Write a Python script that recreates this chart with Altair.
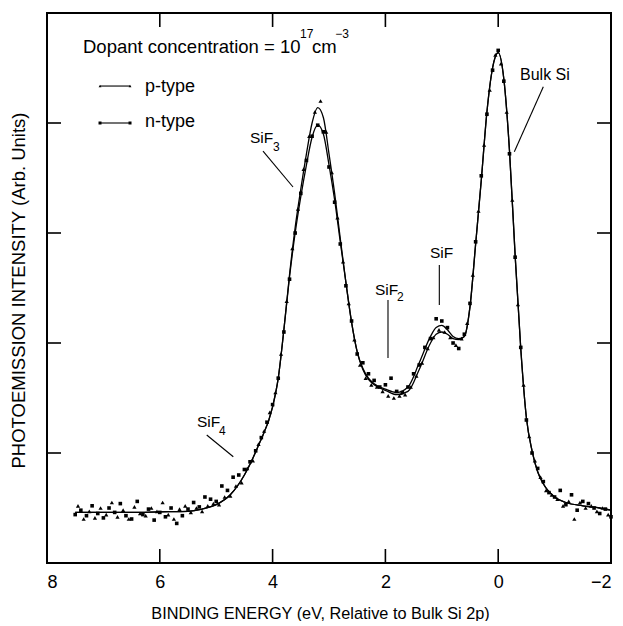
import altair as alt
import pandas as pd

# ---------------- data ----------------
# smooth fitted curves
curve_E = [7.5, 7.0, 6.5, 6.0, 5.5, 5.25, 5.0, 4.75, 4.5, 4.25, 4.0, 3.9, 3.8, 3.7, 3.6,
           3.5, 3.4, 3.3, 3.2, 3.1, 3.0, 2.9, 2.8, 2.7, 2.6, 2.5, 2.4, 2.3, 2.2, 2.0,
           1.8, 1.6, 1.4, 1.2, 1.1, 1.0, 0.9, 0.8, 0.7, 0.6, 0.5, 0.4, 0.3, 0.2, 0.1,
           0.0, -0.1, -0.2, -0.3, -0.4, -0.5, -0.6, -0.7, -0.8, -1.0, -1.2, -1.5, -1.8, -2.0]
curve_p = [0.46, 0.46, 0.46, 0.465, 0.47, 0.49, 0.53, 0.62, 0.80, 1.07, 1.42, 1.68, 2.12, 2.62, 3.05,
           3.40, 3.72, 4.00, 4.14, 4.05, 3.72, 3.36, 2.95, 2.55, 2.19, 1.92, 1.76, 1.67, 1.62, 1.57,
           1.53, 1.56, 1.76, 2.00, 2.08, 2.10, 2.08, 2.04, 2.03, 2.06, 2.33, 2.90, 3.48, 4.10, 4.50,
           4.64, 4.40, 3.75, 2.80, 1.95, 1.32, 1.02, 0.83, 0.72, 0.60, 0.55, 0.52, 0.50, 0.48]
curve_n = [0.46, 0.46, 0.46, 0.465, 0.47, 0.49, 0.53, 0.62, 0.80, 1.07, 1.42, 1.68, 2.12, 2.60, 3.00,
           3.33, 3.62, 3.87, 3.98, 3.90, 3.62, 3.30, 2.92, 2.55, 2.19, 1.92, 1.77, 1.68, 1.63, 1.58,
           1.55, 1.60, 1.82, 2.06, 2.14, 2.16, 2.12, 2.06, 2.04, 2.06, 2.33, 2.90, 3.48, 4.10, 4.50,
           4.64, 4.40, 3.75, 2.80, 1.95, 1.32, 1.02, 0.83, 0.72, 0.60, 0.55, 0.52, 0.50, 0.48]

# measured points, p-type (triangles)
p_E = [7.45, 7.35, 7.25, 7.15, 7.05, 6.95, 6.85, 6.75, 6.65, 6.55, 6.45, 6.35, 6.25, 6.15, 6.05,
       5.95, 5.85, 5.75, 5.65, 5.55, 5.45, 5.35, 5.25, 5.15, 5.05, 4.95, 4.85, 4.75, 4.65, 4.55,
       4.45, 4.35, 4.25, 4.15, 4.05, 3.95, 3.85, 3.75, 3.65, 3.55, 3.45, 3.35, 3.25, 3.15, 3.05,
       2.95, 2.85, 2.75, 2.65, 2.55, 2.45, 2.35, 2.25, 2.15, 2.05, 1.95, 1.85, 1.75, 1.65, 1.55,
       1.45, 1.35, 1.25, 1.15, 1.05, 0.95, 0.85, 0.75, 0.65, 0.55, 0.45, 0.35, 0.25, 0.15, 0.05,
       -0.05, -0.15, -0.25, -0.35, -0.45, -0.55, -0.65, -0.75, -0.85, -0.95, -1.05, -1.15, -1.25,
       -1.35, -1.45, -1.55, -1.65, -1.75, -1.85, -1.95]
p_I = [0.52, 0.40, 0.47, 0.41, 0.50, 0.44, 0.55, 0.42, 0.48, 0.40, 0.51, 0.45, 0.43, 0.50, 0.47,
       0.55, 0.44, 0.40, 0.49, 0.52, 0.46, 0.50, 0.47, 0.52, 0.54, 0.53, 0.60, 0.61, 0.70, 0.73,
       0.86, 0.93, 1.08, 1.20, 1.37, 1.55, 1.90, 2.38, 2.86, 3.22, 3.58, 3.88, 4.10, 4.20, 3.92,
       3.55, 3.14, 2.74, 2.36, 2.03, 1.80, 1.68, 1.62, 1.60, 1.56, 1.52, 1.50, 1.52, 1.53, 1.60,
       1.70, 1.82, 1.95, 2.05, 2.12, 2.10, 2.05, 1.98, 2.04, 2.18, 2.62, 3.20, 3.80, 4.30, 4.62,
       4.54, 4.10, 3.30, 2.35, 1.62, 1.15, 0.93, 0.78, 0.66, 0.62, 0.58, 0.52, 0.56,
       0.40, 0.55, 0.50, 0.52, 0.47, 0.50, 0.44]

# measured points, n-type (squares)
n_E = [7.5, 7.4, 7.3, 7.2, 7.1, 7.0, 6.9, 6.8, 6.7, 6.6, 6.5, 6.4, 6.3, 6.2, 6.1, 6.0,
       5.9, 5.8, 5.7, 5.6, 5.5, 5.4, 5.3, 5.2, 5.1, 5.0, 4.9, 4.8, 4.7, 4.6, 4.5, 4.4,
       4.3, 4.2, 4.1, 4.0, 3.9, 3.8, 3.7, 3.6, 3.5, 3.4, 3.3, 3.2, 3.1, 3.0, 2.9, 2.8,
       2.7, 2.6, 2.5, 2.4, 2.3, 2.2, 2.1, 2.0, 1.9, 1.8, 1.7, 1.6, 1.5, 1.4, 1.3, 1.2,
       1.1, 1.0, 0.9, 0.8, 0.7, 0.6, 0.5, 0.4, 0.3, 0.2, 0.1, 0.0, -0.1, -0.2, -0.3, -0.4,
       -0.5, -0.6, -0.7, -0.8, -0.9, -1.0, -1.1, -1.2, -1.3, -1.4, -1.5, -1.6, -1.7, -1.8,
       -1.9, -2.0]
n_I = [0.44, 0.48, 0.43, 0.52, 0.45, 0.41, 0.50, 0.46, 0.54, 0.43, 0.40, 0.56, 0.44, 0.49, 0.39, 0.46,
       0.42, 0.50, 0.36, 0.43, 0.49, 0.55, 0.51, 0.60, 0.58, 0.56, 0.70, 0.66, 0.78, 0.80, 0.85, 0.92,
       1.02, 1.14, 1.28, 1.44, 1.68, 2.10, 2.58, 3.00, 3.36, 3.66, 3.88, 3.98, 3.92, 3.60, 3.28, 2.90,
       2.52, 2.20, 1.90, 1.82, 1.72, 1.66, 1.60, 1.62, 1.68, 1.56, 1.55, 1.60, 1.72, 1.80, 1.96, 2.04,
       2.22, 2.20, 2.14, 2.00, 1.95, 2.08, 2.36, 2.92, 3.52, 4.08, 4.48, 4.66, 4.38, 3.72, 2.78, 1.96,
       1.30, 1.00, 0.86, 0.74, 0.64, 0.60, 0.66, 0.53, 0.62, 0.48, 0.56, 0.54, 0.50, 0.45,
       0.49, 0.42]

x_ticks = [8, 6, 4, 2, 0, -2]
inner_x_ticks = [6, 4, 2, 0]
inner_y_ticks = [1, 2, 3, 4]

# annotation texts: position in data units
ann_text = ["Dopant concentration = 10", "17", "cm", "\u22123",
            "p-type", "n-type",
            "SiF", "3", "SiF", "2", "SiF", "SiF", "4", "Bulk  Si"]
ann_E = [7.362, 3.515, 3.300, 2.890,
         6.262, 6.262,
         4.401, 3.993, 2.184, 1.794, 1.209, 5.340, 4.950, -0.387]
ann_I = [4.691, 4.809, 4.691, 4.809,
         4.327, 4.009,
         3.864, 3.782, 2.482, 2.418, 2.818, 1.282, 1.200, 4.436]
ann_fs = [18.5, 12, 18.5, 12,
          18, 18,
          15.5, 12, 15.5, 12, 15.5, 15.5, 12, 16]

# leader lines and legend samples
seg_E = [4.170, 1.954, 1.044, 5.168, -0.800, 7.060, 7.060]
seg_I = [3.745, 2.391, 2.709, 1.164, 4.330, 4.336, 4.000]
seg_E2 = [3.638, 1.954, 1.044, 4.697, -0.286, 6.528, 6.528]
seg_I2 = [3.418, 1.864, 2.345, 0.966, 3.739, 4.336, 4.000]

leg_p_E = [7.060, 6.528]
leg_p_I = [4.336, 4.336]
leg_n_E = [7.060, 6.528]
leg_n_I = [4.000, 4.000]

# ---------------- chart ----------------
FONT = "Liberation Sans"
W, H = 564, 550

xscale = alt.Scale(domain=[-2, 8], reverse=True, nice=False, zero=False)
yscale = alt.Scale(domain=[0, 5], nice=False, zero=False)

xaxis = alt.Axis(
    values=x_ticks, grid=False, ticks=False, tickSize=0, domain=False,
    labelFont=FONT, labelFontSize=18, labelColor="black", labelPadding=10,
    title="BINDING ENERGY (eV, Relative to Bulk Si 2p)",
    titleFont=FONT, titleFontSize=16.3, titleFontWeight="normal",
    titleColor="black", titleY=50, titleX=273, titleAlign="center",
    titleBaseline="middle",
)
yaxis = alt.Axis(
    labels=False, grid=False, ticks=False, tickSize=0, domain=False,
    title="PHOTOEMISSION INTENSITY (Arb. Units)",
    titleFont=FONT, titleFontSize=18.5, titleFontWeight="normal",
    titleColor="black", titleX=-29, titleY=277, titleAlign="center",
    titleBaseline="middle",
)

curve_df = pd.DataFrame(
    {"E": curve_E * 2, "I": curve_p + curve_n,
     "series": ["p-type"] * len(curve_E) + ["n-type"] * len(curve_E)}
)
p_df = pd.DataFrame({"E": p_E, "I": p_I})
n_df = pd.DataFrame({"E": n_E, "I": n_I})
ann_df = pd.DataFrame({"E": ann_E, "I": ann_I, "text": ann_text, "fs": ann_fs})
seg_df = pd.DataFrame({"E": seg_E, "I": seg_I, "E2": seg_E2, "I2": seg_I2})
legp_df = pd.DataFrame({"E": leg_p_E, "I": leg_p_I})
legn_df = pd.DataFrame({"E": leg_n_E, "I": leg_n_I})
xt_df = pd.DataFrame({"E": inner_x_ticks})
yt_df = pd.DataFrame({"I": inner_y_ticks})

xenc = alt.X("E:Q", scale=xscale, axis=xaxis)
yenc = alt.Y("I:Q", scale=yscale, axis=yaxis)

lines = alt.Chart(curve_df).mark_line(
    color="black", strokeWidth=1.3, interpolate="monotone"
).encode(x=xenc, y=yenc, detail="series:N")

pts_p = alt.Chart(p_df).mark_point(
    shape="triangle-up", filled=True, size=18, color="black", opacity=1
).encode(x=xenc, y=yenc)

pts_n = alt.Chart(n_df).mark_point(
    shape="square", filled=True, size=13, color="black", opacity=1
).encode(x=xenc, y=yenc)

tick_len = 14
xt_bottom = alt.Chart(xt_df).mark_rule(color="black", strokeWidth=1.6).encode(
    x=xenc, y=alt.value(H), y2=alt.value(H - tick_len))
xt_top = alt.Chart(xt_df).mark_rule(color="black", strokeWidth=1.6).encode(
    x=xenc, y=alt.value(0), y2=alt.value(tick_len))
yt_left = alt.Chart(yt_df).mark_rule(color="black", strokeWidth=1.6).encode(
    y=yenc, x=alt.value(0), x2=alt.value(tick_len))
yt_right = alt.Chart(yt_df).mark_rule(color="black", strokeWidth=1.6).encode(
    y=yenc, x=alt.value(W), x2=alt.value(W - tick_len))

segs = alt.Chart(seg_df).mark_rule(color="black", strokeWidth=1.1).encode(
    x=xenc, y=yenc, x2="E2:Q", y2="I2:Q")

leg_p = alt.Chart(legp_df).mark_point(
    shape="triangle-up", filled=True, size=8, color="black", opacity=1
).encode(x=xenc, y=yenc)
leg_n = alt.Chart(legn_df).mark_point(
    shape="square", filled=True, size=9, color="black", opacity=1
).encode(x=xenc, y=yenc)

texts = alt.Chart(ann_df).mark_text(
    align="left", baseline="middle", font=FONT, color="black"
).encode(x=xenc, y=yenc, text="text:N", size=alt.Size("fs:Q", scale=None, legend=None))

chart = alt.layer(
    lines, pts_p, pts_n, xt_bottom, xt_top, yt_left, yt_right, segs, leg_p, leg_n, texts
).properties(
    width=W, height=H,
    autosize=alt.AutoSizeParams(type="none"),
    padding={"left": 39, "top": 5, "right": 2, "bottom": 58},
    background="white",
).configure_view(
    stroke="black", strokeWidth=2
)

chart.save("out.html", embed_options={"renderer": "svg", "actions": False})
